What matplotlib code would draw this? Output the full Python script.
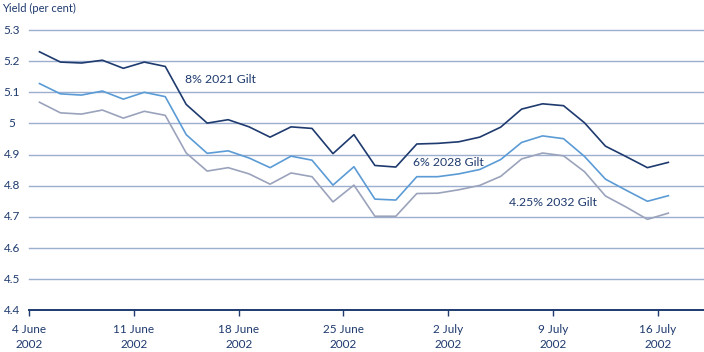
import numpy as np
import matplotlib
matplotlib.use("Agg")
import matplotlib.pyplot as plt

# Data (business days, 4 June 2002 - 16 July 2002)
gilt_2021 = [5.230, 5.197, 5.194, 5.203, 5.177, 5.197, 5.183, 5.061, 5.001, 5.012,
             4.989, 4.956, 4.989, 4.984, 4.903, 4.964, 4.865, 4.860, 4.934, 4.936,
             4.941, 4.956, 4.988, 5.046, 5.063, 5.057, 5.002, 4.927, 4.893, 4.858,
             4.875]
gilt_2028 = [5.128, 5.095, 5.091, 5.104, 5.078, 5.100, 5.086, 4.964, 4.904, 4.912,
             4.889, 4.858, 4.895, 4.882, 4.802, 4.861, 4.757, 4.754, 4.829, 4.829,
             4.838, 4.852, 4.884, 4.939, 4.960, 4.951, 4.894, 4.821, 4.785, 4.750,
             4.768]
gilt_2032 = [5.068, 5.034, 5.030, 5.043, 5.017, 5.039, 5.026, 4.905, 4.847, 4.858,
             4.838, 4.805, 4.841, 4.829, 4.748, 4.802, 4.702, 4.702, 4.775, 4.776,
             4.787, 4.801, 4.830, 4.886, 4.905, 4.896, 4.845, 4.767, 4.731, 4.692,
             4.712]
tick_labels = ["4 June\n2002", "11 June\n2002", "18 June\n2002", "25 June\n2002",
               "2 July\n2002", "9 July\n2002", "16 July\n2002"]
series_labels = ["8% 2021 Gilt", "6% 2028 Gilt", "4.25% 2032 Gilt"]
y_ticks = [4.4, 4.5, 4.6, 4.7, 4.8, 4.9, 5.0, 5.1, 5.2, 5.3]
y_tick_labels = ["4.4", "4.5", "4.6", "4.7", "4.8", "4.9", "5", "5.1", "5.2", "5.3"]

plt.rcParams['font.family'] = ['Lato', 'DejaVu Sans']
navy = "#1e3a6e"
mid = "#5b9bd5"
grey = "#9aa3bb"
grid_c = "#9dafcf"

fig = plt.figure(figsize=(7.04, 3.52), dpi=100)
ax = fig.add_axes([29/704, 1-310.3/352, 1-29/704, (310.3-30)/352])

x = np.arange(len(gilt_2021))
ax.plot(x, gilt_2032, color=grey, lw=1.2, zorder=3)
ax.plot(x, gilt_2028, color=mid, lw=1.2, zorder=3)
ax.plot(x, gilt_2021, color=navy, lw=1.2, zorder=3)

ax.set_xlim(-0.5, 31.7)
ax.set_ylim(4.4, 5.3)
for yv in y_ticks[1:]:
    ax.axhline(yv, color=grid_c, lw=1.0, zorder=1, clip_on=False)

ax.set_yticks(y_ticks)
ax.set_yticklabels([])
for yv, lab in zip(y_ticks, y_tick_labels):
    ax.annotate(lab, xy=(0, yv), xycoords=('axes fraction', 'data'),
                xytext=(-17, 0), textcoords='offset pixels',
                ha='center', va='center', fontsize=8.5, color=navy)
ax.tick_params(axis='y', length=0)

tick_pos = [-0.5 + 5*i for i in range(len(tick_labels))]
ax.set_xticks(tick_pos)
ax.set_xticklabels(tick_labels, fontsize=8.5, color=navy, linespacing=1.45)
ax.tick_params(axis='x', length=4, width=1.0, color=navy, pad=6)

for s in ['top', 'right', 'left']:
    ax.spines[s].set_visible(False)
ax.spines['bottom'].set_color(navy)
ax.spines['bottom'].set_linewidth(1.4)

ax.text(6.95, 5.142, series_labels[0], fontsize=8.8, color=navy, ha='left', va='center')
ax.text(17.8, 4.876, series_labels[1], fontsize=8.8, color=navy, ha='left', va='center')
ax.text(22.4, 4.745, series_labels[2], fontsize=8.8, color=navy, ha='left', va='center')

fig.text(2/704, 1-8/352, "Yield (per cent)", fontsize=8, color=navy, ha='left', va='center')

fig.savefig("out.png", dpi=100)
